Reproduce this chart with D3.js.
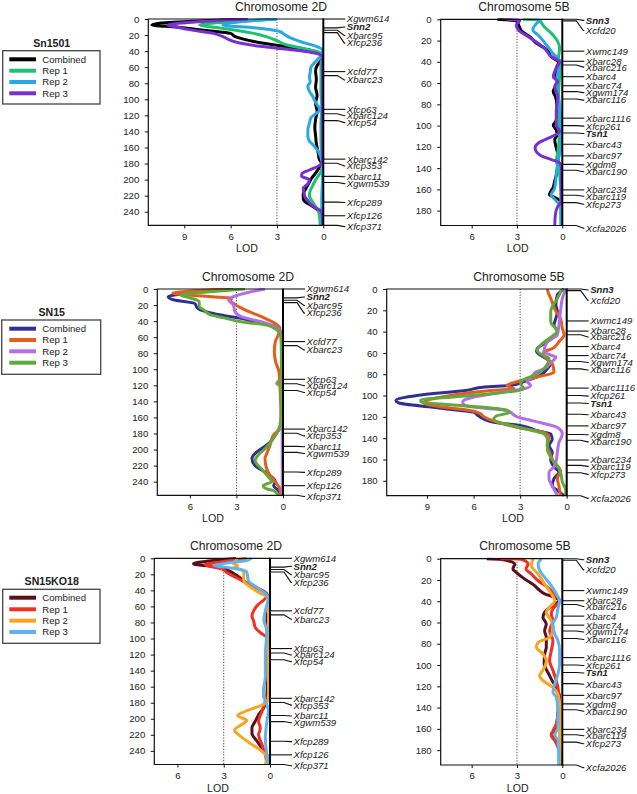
<!DOCTYPE html>
<html><head><meta charset="utf-8">
<script src="https://cdn.jsdelivr.net/npm/d3@7"></script>
<style>
html,body{margin:0;padding:0;background:#fff;}
svg{display:block;font-family:"Liberation Sans",Arial,sans-serif;}
</style></head><body>
<svg id="chart" width="637" height="794"></svg>
<script>
// ---------------- DATA ----------------
const seriesNames = ["Combined", "Rep 1", "Rep 2", "Rep 3"];
const isolates = ["Sn1501", "SN15", "SN15KO18"];
const chromosomes = ["Chromosome 2D", "Chromosome 5B"];
const cmTicks2D = [0, 20, 40, 60, 80, 100, 120, 140, 160, 180, 200, 220, 240];
const cmTicks5B = [0, 20, 40, 60, 80, 100, 120, 140, 160, 180];
const lodTicks = [0, 3, 6, 9];
const threshold = 3;

const markers2D = ["Xgwm614","Snn2","Xbarc95","Xfcp236","Xcfd77","Xbarc23","Xfcp63","Xbarc124","Xfcp54","Xbarc142","Xfcp353","Xbarc11","Xgwm539","Xfcp289","Xfcp126","Xfcp371"];
const markerCM2D = [0, 11, 14, 17, 65.5, 70.5, 112.5, 118, 126.5, 174.5, 179.7, 196, 203.5, 228, 245, 257];
const markers5B = ["Snn3","Xcfd20","Xwmc149","Xbarc28","Xbarc216","Xbarc4","Xbarc74","Xgwm174","Xbarc116","Xbarc1116","Xfcp261","Tsn1","Xbarc43","Xbarc97","Xgdm8","Xbarc190","Xbarc234","Xbarc119","Xfcp273","Xcfa2026"];
const markerCM5B = [0, 1.5, 30, 39.5, 43, 54, 62.5, 68, 75, 93, 100, 107, 117.5, 128.5, 136.5, 142, 160.5, 165.5, 172.5, 194];
const boldMarkers = ["Snn2", "Snn3", "Tsn1"];

// LOD profiles: [cM, LOD]
// Sn1501, chromosome 2D
const sn1501_2D_comb = [[0,4.9],[2,7.5],[5,10.5],[7.5,11.1],[10,9.5],[13,8.2],[16,6.8],[18,6.0],[22,5.7],[28,4.5],[34,2.6],[38.6,0.9],[43,0.25],[47,0.05],[52,0.15],[58,0.4],[65,0.5],[75,0.45],[85,0.5],[95,0.4],[105,0.5],[115,0.4],[125,0.5],[135,0.55],[145,0.5],[155,0.45],[165,0.35],[175,0.25],[180,0.1],[186,0.3],[192,0.5],[198,0.75],[205,0.95],[212,1.15],[218,1.3],[224,1.3],[228,1.15],[233,0.7],[238,0.35],[243,0.15],[250,0.1],[257,0.1]];
const sn1501_2D_rep1 = [[0,3.0],[3,5.5],[7.5,8.0],[10,7.2],[13,6.0],[17.9,4.5],[22,3.7],[27,3.0],[32,2.4],[37.5,1.1],[42,0.2],[47,0.05],[55,0.15],[70,0.15],[90,0.15],[110,0.1],[130,0.15],[150,0.15],[170,0.1],[180,0.05],[190,0.15],[196,0.35],[202,0.55],[208,0.7],[214,0.85],[220,0.9],[226,0.75],[232,0.55],[238,0.35],[245,0.25],[257,0.2]];
const sn1501_2D_rep2 = [[0,3.0],[3,5.2],[7.5,6.5],[11,4.5],[15.8,2.8],[18,2.6],[23,2.2],[28,1.5],[34.5,0.4],[38.6,0.05],[44,0.05],[50,0.35],[55,0.6],[60,0.8],[67,0.85],[72,0.9],[78,0.85],[84,1.0],[90,0.9],[96,0.7],[102,0.55],[108,0.35],[113,0.2],[118,0.5],[123,0.8],[130,0.9],[138,1.0],[146,1.0],[152,0.9],[158,0.6],[164,0.35],[170,0.2],[176,0.1],[182,0.05],[200,0.05],[220,0.1],[240,0.1],[257,0.1]];
const sn1501_2D_rep3 = [[0,4.9],[3,7.8],[7.5,10.1],[10,9.5],[12.9,8.8],[17.9,7.1],[22,6.5],[28,5.8],[34,4.1],[38.6,1.9],[43,0.43],[47,0.05],[60,0.05],[100,0.05],[140,0.05],[178,0.05],[183,0.3],[188,0.9],[193,1.4],[196,1.4],[200,0.9],[205,1.0],[211,1.3],[216,1.25],[221,1.2],[226,1.0],[230,0.85],[235,0.5],[240,0.1],[245,0.05],[257,0.05]];
// Sn1501, chromosome 5B
const sn1501_5B_comb = [[0,4.3],[0.5,3.7],[2,3.0],[5,2.9],[11,2.7],[17,2.1],[22.6,1.7],[28.8,1.0],[35,0.75],[40.8,0.25],[46,0.4],[52,0.4],[58,0.37],[63,0.45],[68,0.6],[73,0.45],[79,0.37],[87,0.35],[95,0.4],[99.7,0.6],[104,0.4],[109,0.35],[113,0.5],[121,0.4],[129,0.27],[137,0.3],[145,0.37],[152,0.5],[158,0.6],[163,0.8],[165,0.85],[168,0.45],[171,0.1],[176,0.05],[194,0.05]];
const sn1501_5B_rep1 = [[0,2.6],[0.5,1.6],[7,1.2],[14.8,0.62],[21,0.3],[27,0.18],[36.7,0.25],[41,0.07],[50,0.15],[58,0.2],[70,0.25],[80,0.2],[95,0.25],[110,0.2],[125,0.3],[134,0.4],[140,0.2],[150,0.15],[165,0.1],[180,0.1],[194,0.1]];
const sn1501_5B_rep2 = [[0,1.4],[3.8,1.7],[10,1.95],[14.8,1.6],[24,1.06],[32,0.62],[40,0.18],[50.8,0.3],[60,0.4],[71,0.3],[83.7,0.18],[96,0.07],[110,0.07],[121,0.1],[134,0.3],[146,0.4],[159,0.5],[165,0.73],[171,0.4],[176,0.1],[194,0.05]];
const sn1501_5B_rep3 = [[0,3.7],[1,2.8],[5.4,3.05],[10,2.9],[16,2.3],[22.6,1.6],[27,1.2],[35,0.73],[40,0.18],[46,0.4],[54,0.6],[58.6,0.3],[63,0.5],[73,0.3],[87,0.4],[99.4,0.4],[105.6,0.18],[112,0.95],[116.6,1.6],[121,1.8],[127.6,1.5],[132,0.73],[135,0.18],[140,0.05],[152.7,0.07],[165,0.05],[171,0.05],[176,0.3],[184,0.46],[194,0.5]];
// SN15, chromosome 2D
const sn15_2D_comb = [[0,3.2],[4,5.5],[9.6,7.4],[13.7,7.0],[17.9,5.7],[24,5.5],[28,5.0],[32.5,4.0],[36.6,2.7],[42.9,1.4],[47,0.4],[55,0.13],[70,0.1],[100,0.1],[130,0.1],[160,0.1],[170,0.1],[176,0.3],[182,0.5],[193,0.95],[199,1.4],[205,1.8],[211,2.0],[220,1.8],[228,1.16],[234,0.73],[240,0.5],[245,0.6],[251,0.3],[257,0.1]];
const sn15_2D_rep1 = [[0,3.7],[5.4,7.1],[9.6,4.6],[11.6,3.3],[14,3.4],[17.9,3.2],[26,2.45],[34.5,1.4],[43,0.5],[49,0.2],[57,0.3],[66,0.5],[78,0.56],[91,0.47],[103,0.26],[120,0.2],[161,0.13],[174,0.2],[182,0.62],[195,0.84],[205,1.05],[211,1.16],[224,1.05],[232,0.84],[240,0.5],[249,0.2],[257,0.15]];
const sn15_2D_rep2 = [[0,1.16],[4,2.2],[9.6,3.2],[13.7,3.5],[20,3.2],[28,3.1],[34.5,2.7],[40.8,1.4],[47,0.5],[55,0.1],[100,0.05],[150,0.05],[200,0.05],[257,0.05]];
const sn15_2D_rep3 = [[0,2.45],[3,4.5],[7.5,6.6],[11,6.0],[15.8,5.4],[21.8,5.4],[26,5.1],[32,4.7],[36,3.8],[41,2.6],[45,1.05],[51,0.4],[57,0.13],[80,0.1],[110,0.1],[115,0.3],[118,0.4],[121,0.15],[150,0.1],[170,0.2],[186,0.62],[199,1.16],[207,1.6],[213.5,1.8],[224,1.4],[234,0.95],[240,0.73],[245,1.27],[249,1.05],[251,0.62],[257,0.3]];
// SN15, chromosome 5B
const sn15_5B_comb = [[0,0.17],[5.7,0.6],[15,0.7],[21,0.6],[27.6,0.7],[34,0.82],[40,0.6],[49.6,1.25],[56,1.9],[59,1.94],[62,1.7],[64,1.47],[70,1.03],[74.8,1.25],[81,1.7],[87,2.76],[90.5,3.6],[92,5.3],[95,6.4],[100,9.65],[104.6,11.0],[107,10.8],[111,8.6],[114,6.85],[115.6,6.0],[119,5.7],[125,4.7],[128,3.0],[133,1.9],[136,1.03],[141,0.93],[147,1.14],[153,0.93],[160,1.03],[167,0.82],[172,0.5],[178,0.82],[185,0.93],[189,0.6],[194,0.17]];
const sn15_5B_rep1 = [[0,1.25],[3,1.2],[8.8,1.03],[21,0.7],[27.6,0.4],[37,0.28],[43,0.17],[49.6,0.5],[56,0.93],[59,1.47],[62,1.5],[70,0.93],[78,0.82],[82.6,1.9],[87,3.2],[90.5,3.84],[93.6,3.4],[95,4.7],[100,7.5],[104.6,9.0],[107,9.2],[111,7.9],[114,6.2],[117,5.56],[120,5.34],[125,4.5],[131,2.76],[134.5,1.47],[139,1.14],[147,1.25],[156,1.03],[163,0.82],[170.6,0.4],[178,0.6],[185,0.5],[194,0.4]];
const sn15_5B_rep2 = [[0,0.06],[8.8,0.28],[21,0.4],[34,0.5],[43,0.6],[49.6,1.25],[59,1.47],[62,1.03],[64,0.7],[69,1.03],[75,1.47],[78,2.0],[84,2.33],[87,2.54],[90.5,2.33],[93.6,2.76],[98,4.7],[103,6.4],[106,6.7],[109,6.6],[111,5.9],[114,3.84],[117,3.5],[120,3.2],[124,2.1],[130,0.6],[136,0.28],[144,0.5],[153,0.6],[163,0.7],[167,0.82],[172,1.14],[178,1.14],[185,0.93],[191,0.7],[194,0.6]];
const sn15_5B_rep3 = [[0,0.28],[8.8,0.6],[21,1.03],[30.8,1.03],[40,0.6],[43,0.82],[52.8,1.68],[57.5,1.9],[62,1.57],[65,1.14],[74.8,1.47],[81,2.1],[85.8,2.87],[89,2.97],[93.6,2.76],[98,4.7],[101.5,7.5],[104,9.4],[106,9.4],[108.7,7.5],[111,5.34],[114,3.84],[116,3.7],[119,4.5],[122,4.7],[131,2.76],[136,1.47],[141,1.25],[150,1.25],[160,0.93],[166,0.6],[172,0.4],[181,0.28],[189,0.06],[194,0.06]];
// SN15KO18, chromosome 2D
const ko18_2D_comb = [[0,2.2],[3,3.8],[7,4.96],[11,3.3],[15.5,2.68],[22,2.1],[30,1.6],[38,0.74],[44.7,0.2],[50,0.1],[78,0.2],[120,0.15],[174,0.2],[186.5,0.41],[195,0.74],[203,0.95],[211.5,1.17],[218,1.17],[228,0.84],[236.6,0.52],[245,0.2],[257,0.2]];
const ko18_2D_rep1 = [[0,1.5],[4,3.0],[8,4.2],[13.4,3.1],[17.6,2.8],[26,2.0],[34,1.17],[42.6,0.3],[46.8,0.2],[52,0.4],[57,0.74],[65.6,1.06],[71.8,1.17],[78,1.06],[86.4,0.95],[92.6,0.63],[99,0.2],[107,0.1],[170,0.1],[178,0.3],[190.6,0.52],[203,0.74],[211.5,0.63],[220,0.74],[232,0.52],[245,0.3],[257,0.2]];
const ko18_2D_rep2 = [[0,2.16],[3,2.2],[6,2.4],[9,2.1],[11,2.3],[15,1.8],[17,1.7],[28,1.7],[34,1.4],[38,1.1],[42.6,0.74],[46.8,0.3],[52,0.1],[100,0.1],[175,0.1],[182,0.41],[190,1.5],[196,2.1],[202,1.5],[208,1.9],[214,2.3],[222,1.9],[232,1.17],[240.7,0.52],[249,0.2],[257,0.3]];
const ko18_2D_rep3 = [[0,1.2],[3,1.6],[6,2.8],[9,3.65],[11,3.0],[13.4,2.03],[17.6,1.5],[28,1.4],[36.3,0.84],[42.6,0.41],[48.9,0.1],[65,0.3],[77,0.4],[90,0.2],[120,0.3],[148,0.3],[161.5,0.41],[170,0.43],[178,0.3],[190,0.1],[203,0.2],[224,0.3],[245,0.2],[257,0.1]];
// SN15KO18, chromosome 5B
const ko18_5B_comb = [[0,5.0],[0.5,4.1],[5,3.15],[9.7,3.27],[12.8,3.05],[19,2.5],[25.4,1.83],[28.5,1.6],[33,1.17],[36.3,0.5],[39.5,0.18],[42.6,0.5],[50.4,1.17],[55,1.28],[61.4,1.06],[67.7,1.17],[74,1.06],[83.3,1.06],[89.6,1.17],[99,1.2],[104,1.06],[110,0.84],[116,0.62],[121,0.4],[130,0.18],[145,0.3],[155,0.35],[162,0.5],[165,0.73],[171,0.4],[180,0.18],[194,0.07]];
const ko18_5B_rep1 = [[0,4.1],[0.5,2.7],[5,2.27],[9.7,2.4],[14.4,2.05],[20.7,1.6],[27,0.95],[32,0.62],[36.7,0.29],[40,0.18],[47,0.62],[52,0.73],[58,0.62],[67.7,0.84],[77,0.62],[86.5,0.73],[96,0.84],[105,0.62],[114.7,0.4],[121,0.29],[135,0.2],[155.5,0.4],[162,0.62],[166.5,0.73],[171,0.5],[177.4,0.29],[183.7,0.18],[194,0.18]];
const ko18_5B_rep2 = [[0,1.94],[6.6,2.05],[14.4,1.6],[23.8,1.17],[33,0.73],[39.5,0.5],[45.7,0.84],[50.4,1.06],[58.3,0.73],[66,0.62],[74,0.84],[78.6,1.6],[83.3,1.72],[89.6,1.28],[96,1.06],[102,1.17],[106.9,1.39],[110,1.5],[114.7,1.28],[121,0.62],[127.6,0.29],[136.6,0.18],[160,0.18],[194,0.12]];
const ko18_5B_rep3 = [[0,1.39],[5,1.6],[11,1.5],[17.5,1.17],[25.4,0.73],[33,0.4],[39.5,0.18],[47,0.29],[55,0.4],[61.4,0.62],[70.8,0.5],[77,0.29],[86.5,0.18],[99,0.18],[108.4,0.29],[118,0.5],[125.7,0.62],[130,0.4],[136.6,0.33],[146,0.29],[158.6,0.29],[166,0.5],[171,0.29],[184,0.24],[194,0.24]];

// ---------------- STYLE / LAYOUT ----------------
const palettes = [
  ["#000000", "#1fbf74", "#29a9e1", "#7a2fd0"],
  ["#2e3192", "#e35d1c", "#b36fe8", "#63a83b"],
  ["#5a0f1a", "#ef3023", "#f6a623", "#62b2ec"]
];
const labelCM2D = [0, 10, 20.5, 30, 65.5, 76, 112.5, 120.5, 129, 174.5, 183, 196.5, 205, 228.5, 245, 258.5];
const labelCM5B = [1, 10.5, 30, 39.5, 45, 54, 62.5, 69, 76, 93, 100.5, 107.5, 118, 128.5, 136.8, 143.5, 160.5, 166.5, 174, 196.5];

const panels = [
  {row:0, chr:0, x0:148.3, x1:323.3, y0:19,    y1:225.4, lodMax:11.33, title:[281,10.5], lodLab:[247,252],
   data:[sn1501_2D_comb, sn1501_2D_rep1, sn1501_2D_rep2, sn1501_2D_rep3]},
  {row:0, chr:1, x0:440.7, x1:562.3, y0:19.3,  y1:225.5, lodMax:8.05, title:[524,10.5], lodLab:[517.7,252],
   data:[sn1501_5B_comb, sn1501_5B_rep1, sn1501_5B_rep2, sn1501_5B_rep3]},
  {row:1, chr:0, x0:157.3, x1:283,   y0:289,   y1:495.3, lodMax:8.1, title:[248,280.5], lodLab:[213,522],
   data:[sn15_2D_comb, sn15_2D_rep1, sn15_2D_rep2, sn15_2D_rep3]},
  {row:1, chr:1, x0:386.7, x1:566.7, y0:289,   y1:495.7, lodMax:11.6, title:[519,280.5], lodLab:[513,522],
   data:[sn15_5B_comb, sn15_5B_rep1, sn15_5B_rep2, sn15_5B_rep3]},
  {row:2, chr:0, x0:154.3, x1:270,   y0:558.3, y1:764.5, lodMax:7.5, title:[236,549.5], lodLab:[218,791.5],
   data:[ko18_2D_comb, ko18_2D_rep1, ko18_2D_rep2, ko18_2D_rep3]},
  {row:2, chr:1, x0:440.7, x1:562.3, y0:558.7, y1:765,   lodMax:8.05, title:[525,549.5], lodLab:[517.7,791.5],
   data:[ko18_5B_comb, ko18_5B_rep1, ko18_5B_rep2, ko18_5B_rep3]}
];
const legends = [
  {box:[2.7,50.7,97.3,53.3], title:[51.7,46.5], rows:[59.3,70.7,82,93.3]},
  {box:[1.7,320,99,54.3],   title:[51.7,315.5], rows:[328.7,340,351.3,362.7]},
  {box:[2.7,589.3,97.3,54], title:[51.7,584.5], rows:[597.7,609.3,620.7,632]}
];

const svg = d3.select("#chart");
const defs = svg.append("defs");

panels.forEach((p, i) => {
  const cmMax = p.chr === 0 ? 257 : 194;
  const y = d3.scaleLinear().domain([0, cmMax]).range([p.y0, p.y1]);
  const x = d3.scaleLinear().domain([0, p.lodMax]).range([p.x1, p.x0]);
  const g = svg.append("g");

  defs.append("clipPath").attr("id", "clip" + i).append("rect")
    .attr("x", p.x0).attr("y", p.y0 - 1).attr("width", p.x1 - p.x0 + 1.5).attr("height", p.y1 - p.y0 + 2);

  // threshold line
  g.append("line").attr("x1", x(threshold)).attr("x2", x(threshold))
    .attr("y1", p.y0).attr("y2", p.y1)
    .attr("stroke", "#444").attr("stroke-width", 1).attr("stroke-dasharray", "1.2,1.6");

  // curves
  const line = d3.line().x(d => x(d[1])).y(d => y(d[0])).curve(d3.curveMonotoneY);
  const cg = g.append("g").attr("clip-path", `url(#clip${i})`);
  p.data.forEach((s, k) => {
    cg.append("path").datum(s).attr("d", line)
      .attr("fill", "none").attr("stroke", palettes[p.row][k])
      .attr("stroke-width", 3).attr("stroke-linejoin", "round").attr("stroke-linecap", "butt");
  });

  // frame
  g.append("path").attr("d", `M${p.x1},${p.y0}H${p.x0}V${p.y1}H${p.x1}`)
    .attr("fill", "none").attr("stroke", "#111").attr("stroke-width", 1.2);
  g.append("line").attr("x1", p.x1).attr("x2", p.x1).attr("y1", p.y0 - 0.6).attr("y2", p.y1 + 0.6)
    .attr("stroke", "#000").attr("stroke-width", 2);

  // left axis
  const cmTicks = p.chr === 0 ? cmTicks2D : cmTicks5B;
  const ax = g.append("g").attr("transform", `translate(${p.x0},0)`)
    .call(d3.axisLeft(y).tickValues(cmTicks).tickSize(3.5).tickPadding(5.5));
  ax.select(".domain").remove();
  ax.selectAll("line").attr("stroke", "#111");
  ax.selectAll("text").attr("font-size", "9.6px").attr("fill", "#222")
    .attr("font-family", '"Liberation Sans",Arial,sans-serif');

  // bottom axis
  const bx = g.append("g").attr("transform", `translate(0,${p.y1})`)
    .call(d3.axisBottom(x).tickValues(lodTicks.filter(t => t <= p.lodMax)).tickSize(3).tickPadding(4.5));
  bx.select(".domain").remove();
  bx.selectAll("line").attr("stroke", "#111");
  bx.selectAll("text").attr("font-size", "9.6px").attr("fill", "#222")
    .attr("font-family", '"Liberation Sans",Arial,sans-serif');

  g.append("text").attr("x", p.lodLab[0]).attr("y", p.lodLab[1])
    .attr("text-anchor", "middle").attr("font-size", "10.6px").attr("fill", "#222").text("LOD");

  g.append("text").attr("x", p.title[0]).attr("y", p.title[1])
    .attr("text-anchor", "middle").attr("font-size", "12.2px").attr("fill", "#222").text(chromosomes[p.chr]);

  // markers
  const names = p.chr === 0 ? markers2D : markers5B;
  const mcm = p.chr === 0 ? markerCM2D : markerCM5B;
  const lcm = p.chr === 0 ? labelCM2D : labelCM5B;
  names.forEach((nm, j) => {
    const ty = y(mcm[j]), ly = y(lcm[j]);
    g.append("path").attr("d", `M${p.x1},${ty}H${p.x1 + 14}L${p.x1 + 21},${ly}H${p.x1 + 22}`)
      .attr("fill", "none").attr("stroke", "#111").attr("stroke-width", 1.1);
    g.append("text").attr("x", p.x1 + 23.5).attr("y", ly + 3.4)
      .attr("font-size", "9.6px").attr("font-style", "italic")
      .attr("font-weight", boldMarkers.includes(nm) ? "bold" : "normal")
      .attr("fill", "#222").text(nm);
  });
});

// legends
legends.forEach((L, r) => {
  const g = svg.append("g");
  g.append("rect").attr("x", L.box[0]).attr("y", L.box[1]).attr("width", L.box[2]).attr("height", L.box[3])
    .attr("fill", "#fff").attr("stroke", "#444").attr("stroke-width", 1.3);
  g.append("text").attr("x", L.title[0]).attr("y", L.title[1]).attr("text-anchor", "middle")
    .attr("font-size", "10.6px").attr("font-weight", "bold").attr("fill", "#222").text(isolates[r]);
  seriesNames.forEach((s, k) => {
    g.append("line").attr("x1", 9.3).attr("x2", 36).attr("y1", L.rows[k]).attr("y2", L.rows[k])
      .attr("stroke", palettes[r][k]).attr("stroke-width", 4);
    g.append("text").attr("x", 42.3).attr("y", L.rows[k] + 3.4)
      .attr("font-size", "9.6px").attr("fill", "#222").text(s);
  });
});
</script>
</body></html>
